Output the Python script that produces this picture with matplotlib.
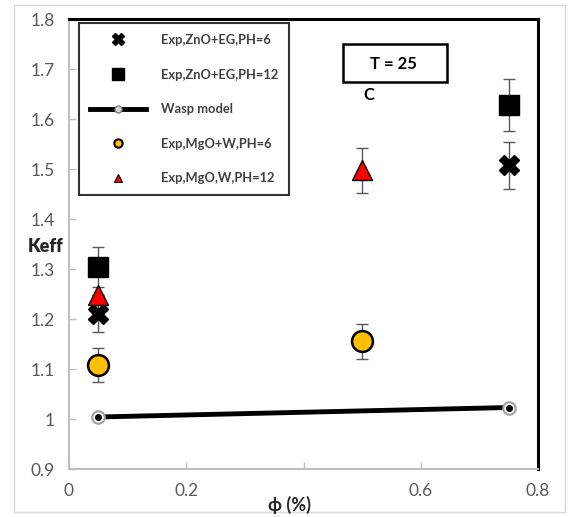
import matplotlib.pyplot as plt
from matplotlib.patches import Rectangle

# data
x_zno6 = [0.05, 0.75]
y_zno6 = [1.21, 1.508]
e_zno6 = [0.035, 0.047]

x_zno12 = [0.05, 0.75]
y_zno12 = [1.304, 1.628]
e_zno12 = [0.04, 0.052]

x_wasp = [0.05, 0.75]
y_wasp = [1.004, 1.023]

x_mgo6 = [0.05, 0.5]
y_mgo6 = [1.108, 1.156]
e_mgo6 = [0.035, 0.035]

x_mgo12 = [0.05, 0.5]
y_mgo12 = [1.248, 1.498]
e_mgo12 = [0.0, 0.045]

labels = ["Exp,ZnO+EG,PH=6", "Exp,ZnO+EG,PH=12", "Wasp model",
          "Exp,MgO+W,PH=6", "Exp,MgO,W,PH=12"]

plt.rcParams['font.family'] = ['Lato', 'DejaVu Sans']

fig = plt.figure(figsize=(5.7, 5.17), dpi=100)
ax = fig.add_axes([69 / 570, 1 - 469 / 517, 469 / 570, 450 / 517])

# light outer chart border
fig.patches.append(Rectangle((14 / 570, 5 / 517), 551 / 570, 507 / 517,
                             transform=fig.transFigure, fill=False,
                             edgecolor='#d9d9d9', lw=1))

ecol = '#595959'
ax.errorbar(x_zno6, y_zno6, yerr=e_zno6, fmt='none', ecolor=ecol,
            elinewidth=1, capsize=4.5, zorder=2)
h1, = ax.plot(x_zno6, y_zno6, ls='none', marker='X', ms=15, color='black',
              mec='black', zorder=3)

ax.errorbar(x_zno12, y_zno12, yerr=e_zno12, fmt='none', ecolor=ecol,
            elinewidth=1, capsize=4.5, zorder=2)
h2, = ax.plot(x_zno12, y_zno12, ls='none', marker='s', ms=14, color='black',
              zorder=3)

ax.plot(x_wasp, y_wasp, color='black', lw=3.5, marker='o', ms=9,
        mfc='white', mec='#a0a0a0', mew=1.5, zorder=3)
ax.plot(x_wasp, y_wasp, ls='none', marker='o', ms=4, color='black', zorder=3)

ax.errorbar(x_mgo6, y_mgo6, yerr=e_mgo6, fmt='none', ecolor=ecol,
            elinewidth=1, capsize=4.5, zorder=2)
h4, = ax.plot(x_mgo6, y_mgo6, ls='none', marker='o', ms=15, mfc='#ffc000',
              mec='black', mew=1.8, zorder=3)

ax.errorbar(x_mgo12, y_mgo12, yerr=e_mgo12, fmt='none', ecolor=ecol,
            elinewidth=1, capsize=4.5, zorder=2)
h5, = ax.plot(x_mgo12, y_mgo12, ls='none', marker='^', ms=15, mfc='#ff0000',
              mec='black', mew=1, zorder=4)

ax.set_xlim(0, 0.8)
ax.set_ylim(0.9, 1.8)
ax.set_xticks([0, 0.2, 0.4, 0.6, 0.8])
ax.set_xticklabels(['0', '0.2', '', '0.6', '0.8'])
ax.set_yticks([0.9, 1.0, 1.1, 1.2, 1.3, 1.4, 1.5, 1.6, 1.7, 1.8])
ax.set_yticklabels(['0.9', '1', '1.1', '1.2', '1.3', '1.4', '1.5', '1.6',
                    '1.7', '1.8'])
ax.tick_params(direction='in', length=5, width=1, color='#bfbfbf',
               labelsize=12.5, labelcolor='#595959', pad=10)

for s in ['left', 'bottom']:
    ax.spines[s].set_color('#bfbfbf')
    ax.spines[s].set_linewidth(1.5)
for s in ['top', 'right']:
    ax.spines[s].set_color('black')
    ax.spines[s].set_linewidth(2.2)

fig.text(46 / 570, 1 - 246 / 517, 'Keff', fontsize=13, fontweight='heavy',
         color='#262626', ha='center', va='center')
fig.text(290 / 570, 1 - 505 / 517, 'ϕ (%)', fontsize=13, fontweight='bold',
         color='#262626', ha='center', va='center')

# temperature box
ax.add_patch(Rectangle(((343 - 69) / 469, (469 - 82) / 450), 104 / 469,
                       38 / 450, transform=ax.transAxes, fill=False,
                       edgecolor='black', lw=1.8))
ax.text((393 - 69) / 469, (469 - 64) / 450, 'T = 25', transform=ax.transAxes,
        fontsize=12, fontweight='bold', ha='center', va='center')
ax.text((369 - 69) / 469, (469 - 95) / 450, 'C', transform=ax.transAxes,
        fontsize=12, fontweight='bold', ha='center', va='center')

# legend handles (small markers)
lh = [
    plt.Line2D([], [], ls='none', marker='X', ms=8, color='black'),
    plt.Line2D([], [], ls='none', marker='s', ms=8, color='black'),
    plt.Line2D([], [], color='black', lw=3.5, marker='o', ms=5,
               mfc='#d9d9d9', mec='#808080'),
    plt.Line2D([], [], ls='none', marker='o', ms=6, mfc='#ffc000',
               mec='black', mew=1.5),
    plt.Line2D([], [], ls='none', marker='^', ms=6, mfc='#ff0000',
               mec='black', mew=0.8),
]
leg = ax.legend(lh, labels, loc='upper left',
                bbox_to_anchor=((79 - 69) / 469, (469 - 23) / 450),
                frameon=True, fancybox=False, handlelength=4.3,
                labelspacing=1.75, borderpad=0.85, borderaxespad=0,
                handletextpad=1.2, prop={'size': 9.3, 'weight': 'bold'})
leg.get_frame().set_edgecolor('black')
leg.get_frame().set_linewidth(1.5)
for t in leg.get_texts():
    t.set_color('#404040')

fig.savefig('out.png', dpi=100)
